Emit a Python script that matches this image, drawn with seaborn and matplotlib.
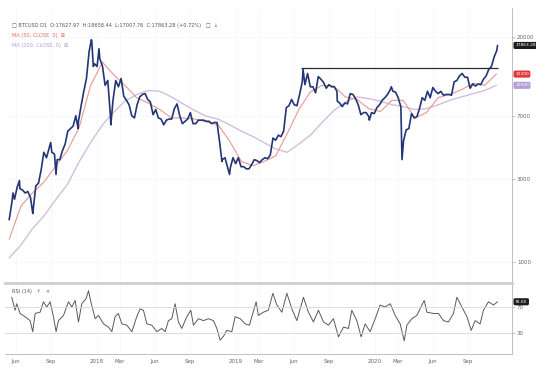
import numpy as np
import pandas as pd
import matplotlib
matplotlib.use("Agg")
import matplotlib.pyplot as plt
import matplotlib.dates as mdates
import matplotlib.transforms as mtransforms
from matplotlib.ticker import FixedLocator, FixedFormatter, NullLocator
import seaborn as sns

# ---------------- data ----------------
# weekly closes (Mondays), starting 2017-05-15
price_start = "2017-05-15"
price_2017 = [1750, 2200, 2300, 2700, 2650, 2600, 2500, 2550, 2350, 2000, 2750,
              2850, 3400, 4300, 4000, 4550, 4300, 4200, 3900, 3900, 4400, 4800,
              5700, 5900, 6100, 7000, 6500, 8000, 9700, 11500, 16500, 18900, 14000]
price_2018 = [13500, 15000, 13600, 10500, 11200, 7000, 8700, 11200, 10300, 11500,
              9100, 8600, 8100, 7000, 6800, 8100, 9000, 9300, 9400, 8700, 8400,
              7100, 7600, 6800, 6700, 6200, 6600, 6700, 6700, 7700, 8200, 7000,
              6300, 6500, 6700, 7300, 6300, 6300, 6600, 6600, 6600, 6500, 6500,
              6300, 6400, 6400, 4900, 3900, 4000, 3500, 3500, 4000, 3700]
price_2019 = [4000, 3550, 3550, 3450, 3450, 3650, 3900, 3850, 3750, 3900, 4000,
              3950, 4150, 5200, 5050, 5400, 5300, 5700, 7800, 8000, 8700, 8100,
              8000, 9300, 11000, 10600, 12300, 10300, 10300, 9500, 11800, 11400,
              10900, 10100, 10600, 10300, 10300, 9700, 8300, 7900, 8300, 8200,
              9400, 9300, 8800, 8100, 7100, 7300, 7300, 6900, 7300, 7200]
price_2020 = [7800, 8100, 8600, 8900, 9300, 9900, 9700, 9600, 8900, 7900, 5000,
              5800, 5900, 7200, 6800, 6900, 7700, 8900, 8600, 9700, 8900, 10200,
              9700, 9400, 9700, 9200, 9300, 9300, 9200, 11000, 11200, 11900, 12300,
              11700, 11700, 10100, 10700, 10400, 10700, 10600, 11400, 11900, 13000,
              13500, 15300, 16700]

# daily extremes visible as spikes
spike_dates = ["2017-05-25", "2017-06-11", "2017-07-16", "2017-09-01", "2017-09-15",
               "2017-11-12", "2017-12-17", "2017-12-22", "2018-01-06", "2018-02-06",
               "2018-11-25", "2018-12-15", "2019-06-26", "2019-09-24", "2019-12-17",
               "2020-02-13", "2020-03-12", "2020-11-18"]
spike_values = [2500, 2950, 1900, 4900, 3200, 5900, 19300, 13500, 17100, 6200,
                3800, 3200, 13000, 8500, 6600, 10300, 3900, 17863.28]

# moving averages, mid-month samples from May 2017
ma_start = "2017-05-01"
ma50_values = [1350, 2100, 2500, 2900, 3600, 4400, 6000, 10500,
               14300, 12000, 10500, 8900, 8300, 7600, 6800, 6800, 6700, 6450, 6200, 5000,
               3800, 3600, 3800, 4100, 5500, 7600, 9600, 10500, 10400, 9000, 8700, 7700,
               7400, 8600, 8600, 6800, 7300, 8900, 9300, 9900, 10800, 10500, 12200]
ma200_values = [1050, 1250, 1550, 1850, 2300, 2800, 3800, 4900,
                6200, 7400, 8500, 9300, 9800, 9700, 9000, 8200, 7500, 6950, 6700, 6200,
                5700, 5300, 4900, 4500, 4300, 4800, 5400, 6400, 7500, 8400, 9000, 8800,
                8500, 8100, 7900, 7600, 7700, 8100, 8600, 9000, 9400, 9800, 10500]

# RSI(14), read at decimal-year positions
rsi_years = [2017.386, 2017.410, 2017.422, 2017.446, 2017.482, 2017.518, 2017.537,
             2017.554, 2017.590, 2017.614, 2017.638, 2017.662, 2017.686, 2017.705,
             2017.722, 2017.758, 2017.794, 2017.818, 2017.842, 2017.866, 2017.890,
             2017.921, 2017.938, 2017.955, 2017.986, 2018.010, 2018.046, 2018.082,
             2018.106, 2018.129, 2018.153, 2018.178, 2018.214, 2018.250, 2018.285,
             2018.309, 2018.333, 2018.358, 2018.393, 2018.430, 2018.465, 2018.489,
             2018.513, 2018.537, 2018.561, 2018.585, 2018.609, 2018.645, 2018.674,
             2018.693, 2018.729, 2018.765, 2018.801, 2018.837, 2018.861, 2018.885,
             2018.909, 2018.933, 2018.969, 2018.993, 2019.029, 2019.065, 2019.096,
             2019.113, 2019.144, 2019.160, 2019.196, 2019.232, 2019.264, 2019.293,
             2019.329, 2019.365, 2019.401, 2019.437, 2019.484, 2019.520, 2019.556,
             2019.592, 2019.628, 2019.664, 2019.700, 2019.736, 2019.772, 2019.808,
             2019.832, 2019.868, 2019.899, 2019.928, 2019.964, 2020.000, 2020.036,
             2020.072, 2020.108, 2020.144, 2020.180, 2020.209, 2020.228, 2020.264,
             2020.300, 2020.336, 2020.353, 2020.372, 2020.420, 2020.456, 2020.491,
             2020.527, 2020.563, 2020.588, 2020.624, 2020.660, 2020.691, 2020.719,
             2020.755, 2020.779, 2020.815, 2020.851, 2020.880]
rsi_values = [85, 65, 75, 60, 55, 49, 32, 60, 62, 78, 70, 78, 55, 32, 49, 57, 78, 70,
              80, 47, 75, 83, 95, 78, 52, 57, 44, 39, 32, 55, 60, 44, 42, 32, 55, 67,
              65, 44, 42, 32, 37, 32, 49, 52, 75, 47, 37, 55, 65, 42, 52, 49, 52, 49,
              37, 19, 25, 34, 32, 55, 52, 44, 42, 55, 78, 57, 62, 65, 91, 73, 62, 91,
              67, 49, 85, 62, 47, 65, 47, 42, 52, 24, 39, 37, 65, 49, 24, 44, 32, 52,
              73, 70, 75, 57, 44, 18, 42, 52, 57, 73, 80, 62, 60, 60, 49, 47, 60, 85,
              70, 55, 34, 49, 44, 65, 78, 73, 78]

resistance = 13300
resistance_span = ["2019-06-20", "2020-11-20"]

price_ticks = [1000, 3000, 7000, 20000]
rsi_levels = [30, 70]
month_ticks = ["2017-06-01", "2017-09-01", "2018-01-01", "2018-03-01", "2018-06-01",
               "2018-09-01", "2019-01-01", "2019-03-01", "2019-06-01", "2019-09-01",
               "2020-01-01", "2020-03-01", "2020-06-01", "2020-09-01"]
month_labels = ["Jun", "Sep", "2018", "Mar", "Jun", "Sep", "2019", "Mar", "Jun", "Sep",
                "2020", "Mar", "Jun", "Sep"]

# ---------------- tables ----------------
weekly = price_2017 + price_2018 + price_2019 + price_2020
price = pd.DataFrame({
    "date": pd.date_range(price_start, periods=len(weekly), freq="7D"),
    "close": weekly,
})
price = pd.concat([price, pd.DataFrame({"date": pd.to_datetime(spike_dates),
                                        "close": spike_values})])
price = price.sort_values("date").reset_index(drop=True)

ma_dates = pd.date_range(ma_start, periods=len(ma50_values), freq="MS") + pd.Timedelta(days=14)
ma = pd.DataFrame({"date": ma_dates, "ma50": ma50_values, "ma200": ma200_values})

rsi = pd.DataFrame({
    "date": pd.Timestamp("2018-01-01")
            + pd.to_timedelta((np.array(rsi_years) - 2018) * 365.25, unit="D"),
    "rsi": rsi_values,
})

# ---------------- plot ----------------
sns.set_style("white")
plt.rcParams["font.family"] = ["DejaVu Sans"]

W, H = 536, 382
fig = plt.figure(figsize=(W / 100, H / 100), dpi=100)
ax = fig.add_axes([5 / W, 1 - 283 / H, 507 / W, 275 / H])
ax_rsi = fig.add_axes([5 / W, 1 - 354 / H, 507 / W, 69 / H], sharex=ax)

grid_c = "#f6f6f6"
for a in (ax, ax_rsi):
    a.grid(True, color=grid_c, lw=0.5)
    a.set_axisbelow(True)

sns.lineplot(data=ma, x="date", y="ma200", ax=ax, color="#d3bfdc", lw=1.0)
sns.lineplot(data=ma, x="date", y="ma50", ax=ax, color="#e39b90", lw=0.8)
sns.lineplot(data=price, x="date", y="close", ax=ax, color="#243577", lw=1.2)
ax.hlines(resistance, pd.Timestamp(resistance_span[0]), pd.Timestamp(resistance_span[1]),
          color="#2b2b2b", lw=0.9)

ax.set_yscale("log")
ax.set_ylim(753, 29440)
ax.set_xlim(pd.Timestamp("2017-05-04"), pd.Timestamp("2020-12-26"))
ax.yaxis.tick_right()
ax.yaxis.set_major_locator(FixedLocator(price_ticks))
ax.yaxis.set_major_formatter(FixedFormatter([str(t) for t in price_ticks]))
ax.yaxis.set_minor_locator(NullLocator())
ax.set_xlabel("")
ax.set_ylabel("")
ax.tick_params(axis="x", labelbottom=False, length=0)
ax.tick_params(axis="y", labelsize=4, labelcolor="#666666", color="#aaaaaa",
               length=2, width=0.5, pad=1.5)
for s in ("top", "left"):
    ax.spines[s].set_visible(False)
ax.spines["bottom"].set_color("#cfcfcf")
ax.spines["bottom"].set_linewidth(2)
ax.spines["right"].set_color("#b5b5b5")
ax.spines["right"].set_linewidth(0.6)

# value badges on the price scale
trans = mtransforms.blended_transform_factory(ax.transAxes, ax.transData)
badges = [(price["close"].iloc[-1], f"{price['close'].iloc[-1]:.2f}", "#1c1c1c"),
          (ma50_values[-1], f"{ma50_values[-1]}", "#e0383a"),
          (ma200_values[-1], f"{ma200_values[-1]}", "#b49fd6")]
for val, txt, col in badges:
    ax.text(1.006, val, txt, transform=trans, fontsize=3.2, color="white",
            va="center", ha="left",
            bbox=dict(boxstyle="round,pad=0.35", fc=col, ec="none"))

# RSI pane
sns.lineplot(data=rsi, x="date", y="rsi", ax=ax_rsi, color="#5a5a5a", lw=0.7)
for lvl in rsi_levels:
    ax_rsi.axhline(lvl, color="#d9d9d9", lw=0.6)
ax_rsi.set_ylim(-2.3, 103.8)
ax_rsi.yaxis.tick_right()
ax_rsi.yaxis.set_major_locator(FixedLocator(rsi_levels))
ax_rsi.yaxis.set_major_formatter(FixedFormatter([str(v) for v in rsi_levels]))
ax_rsi.set_xlabel("")
ax_rsi.set_ylabel("")
ax_rsi.xaxis.set_major_locator(FixedLocator(mdates.date2num(pd.to_datetime(month_ticks))))
ax_rsi.xaxis.set_major_formatter(FixedFormatter(month_labels))
ax_rsi.xaxis.set_minor_locator(NullLocator())
ax_rsi.tick_params(axis="both", labelsize=4, labelcolor="#666666", color="#aaaaaa",
                   length=2, width=0.5, pad=1.5)
for s in ("top", "left"):
    ax_rsi.spines[s].set_visible(False)
for s in ("right", "bottom"):
    ax_rsi.spines[s].set_color("#b5b5b5")
    ax_rsi.spines[s].set_linewidth(0.6)
rtrans = mtransforms.blended_transform_factory(ax_rsi.transAxes, ax_rsi.transData)
ax_rsi.text(1.006, rsi_values[-1], f"{rsi_values[-1]:.2f}", transform=rtrans,
            fontsize=3.2, color="white", va="center", ha="left",
            bbox=dict(boxstyle="round,pad=0.35", fc="#1c1c1c", ec="none"))

# legend texts
fig.text(12 / W, 1 - 25 / H,
         "\u25a1 BTCUSD D1  O:17627.97  H:18658.44  L:17007.76  C:17863.28 (+0.72%)   \u25a1  \u2193",
         fontsize=3.6, color="#555555", va="center")
fig.text(12 / W, 1 - 35 / H, "MA (50, CLOSE, 0)  \u22a0", fontsize=3.6,
         color="#e06c66", va="center")
fig.text(12 / W, 1 - 45 / H, "MA (200, CLOSE, 0)  \u22a0", fontsize=3.6,
         color="#b39ddb", va="center")
fig.text(12 / W, 1 - 291 / H, "RSI (14)   \u2191   \u00d7", fontsize=3.6,
         color="#555555", va="center")

fig.savefig("out.png", dpi=100)
